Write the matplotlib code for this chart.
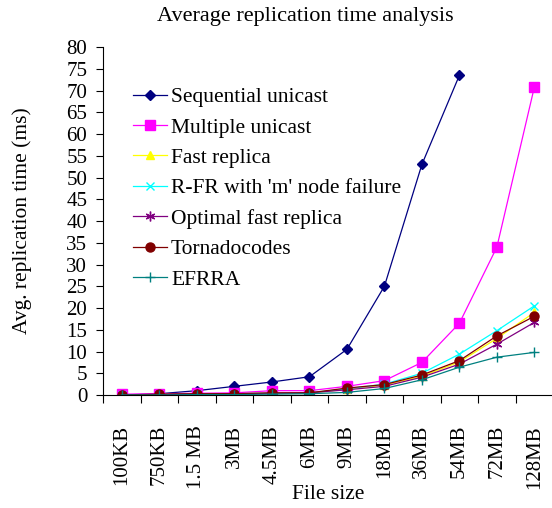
import matplotlib
matplotlib.use('Agg')
import matplotlib.pyplot as plt

# data
sizes = ['100KB', '750KB', '1.5 MB', '3MB', '4.5MB', '6MB', '9MB', '18MB', '36MB', '54MB', '72MB', '128MB']
seq_unicast = [0, 0.3, 1, 2, 3, 4.2, 10.5, 25, 53, 73.5]
multi_unicast = [0.2, 0.3, 0.4, 0.5, 1, 1, 2, 3.3, 7.5, 16.5, 34, 70.8]
fast_replica = [0, 0.1, 0.2, 0.3, 0.4, 0.5, 1.3, 2.3, 4.3, 7.6, 13, 19]
rfr_m_fail = [0, 0.1, 0.2, 0.3, 0.4, 0.5, 1.4, 2.5, 5, 9.4, 14.8, 20.5]
optimal_fr = [0, 0.1, 0.2, 0.3, 0.4, 0.5, 1.2, 2, 4.1, 7.1, 11.7, 16.7]
tornado = [0, 0.2, 0.3, 0.3, 0.5, 0.5, 1.6, 2.4, 4.6, 7.9, 13.6, 18.1]
efrra = [0, 0, 0.1, 0.1, 0.2, 0.3, 0.6, 1.5, 3.5, 6.4, 8.7, 9.8]

plt.rcParams['font.family'] = ['Liberation Serif', 'DejaVu Serif']

fig = plt.figure(figsize=(5.52, 5.08), dpi=100)
ax = fig.add_axes([0.187, 0.2224, 0.815, 0.685])

x = list(range(len(sizes)))
ax.plot(x[:len(seq_unicast)], seq_unicast, color='#000080', lw=0.9, marker='D', ms=5.5, label='Sequential unicast')
ax.plot(x, multi_unicast, color='#FF00FF', lw=0.9, marker='s', ms=7, label='Multiple unicast')
ax.plot(x, fast_replica, color='#FFFF00', lw=0.9, marker='^', ms=6, label='Fast replica')
ax.plot(x, rfr_m_fail, color='#00FFFF', lw=0.9, marker='x', ms=6, mew=1, label="R-FR with 'm' node failure")
ax.plot(x, optimal_fr, color='#800080', lw=0.9, marker=(6, 2, 0), ms=7, mew=1, label='Optimal fast replica')
ax.plot(x, tornado, color='#800000', lw=0.9, marker='o', ms=6.5, label='Tornadocodes')
ax.plot(x, efrra, color='#008080', lw=0.9, marker='+', ms=7, mew=1, label='EFRRA')

ax.set_xlim(-0.5, len(sizes) - 0.5)
ax.set_ylim(0, 80)
ax.set_yticks(range(0, 81, 5))
ax.tick_params(axis='y', direction='out', length=5, width=0.8, labelsize=15, pad=6.5)

# category ticks sit between the categories, labels at the centres
ax.set_xticks([i - 0.5 for i in range(len(sizes))])
ax.set_xticklabels([])
ax.set_xticks(x, minor=True)
ax.set_xticklabels(sizes, minor=True, rotation=90, fontsize=15)
ax.tick_params(axis='x', which='major', direction='out', length=6, width=0.8)
ax.tick_params(axis='x', which='minor', length=0, pad=21.5)

ax.spines['top'].set_visible(False)
ax.spines['right'].set_visible(False)

ax.set_title('Average replication time analysis', fontsize=16, pad=19, x=0.45)
ax.set_ylabel('Avg. replication time (ms)', fontsize=15.5, labelpad=25)
ax.set_xlabel('File size', fontsize=15.5, labelpad=-3)

ax.legend(loc='upper left', bbox_to_anchor=(0.067, 0.885), frameon=False, fontsize=15.5,
          borderpad=0, borderaxespad=0, handlelength=1.55, handletextpad=0.2, labelspacing=0.48)

plt.savefig('out.png', dpi=100)
